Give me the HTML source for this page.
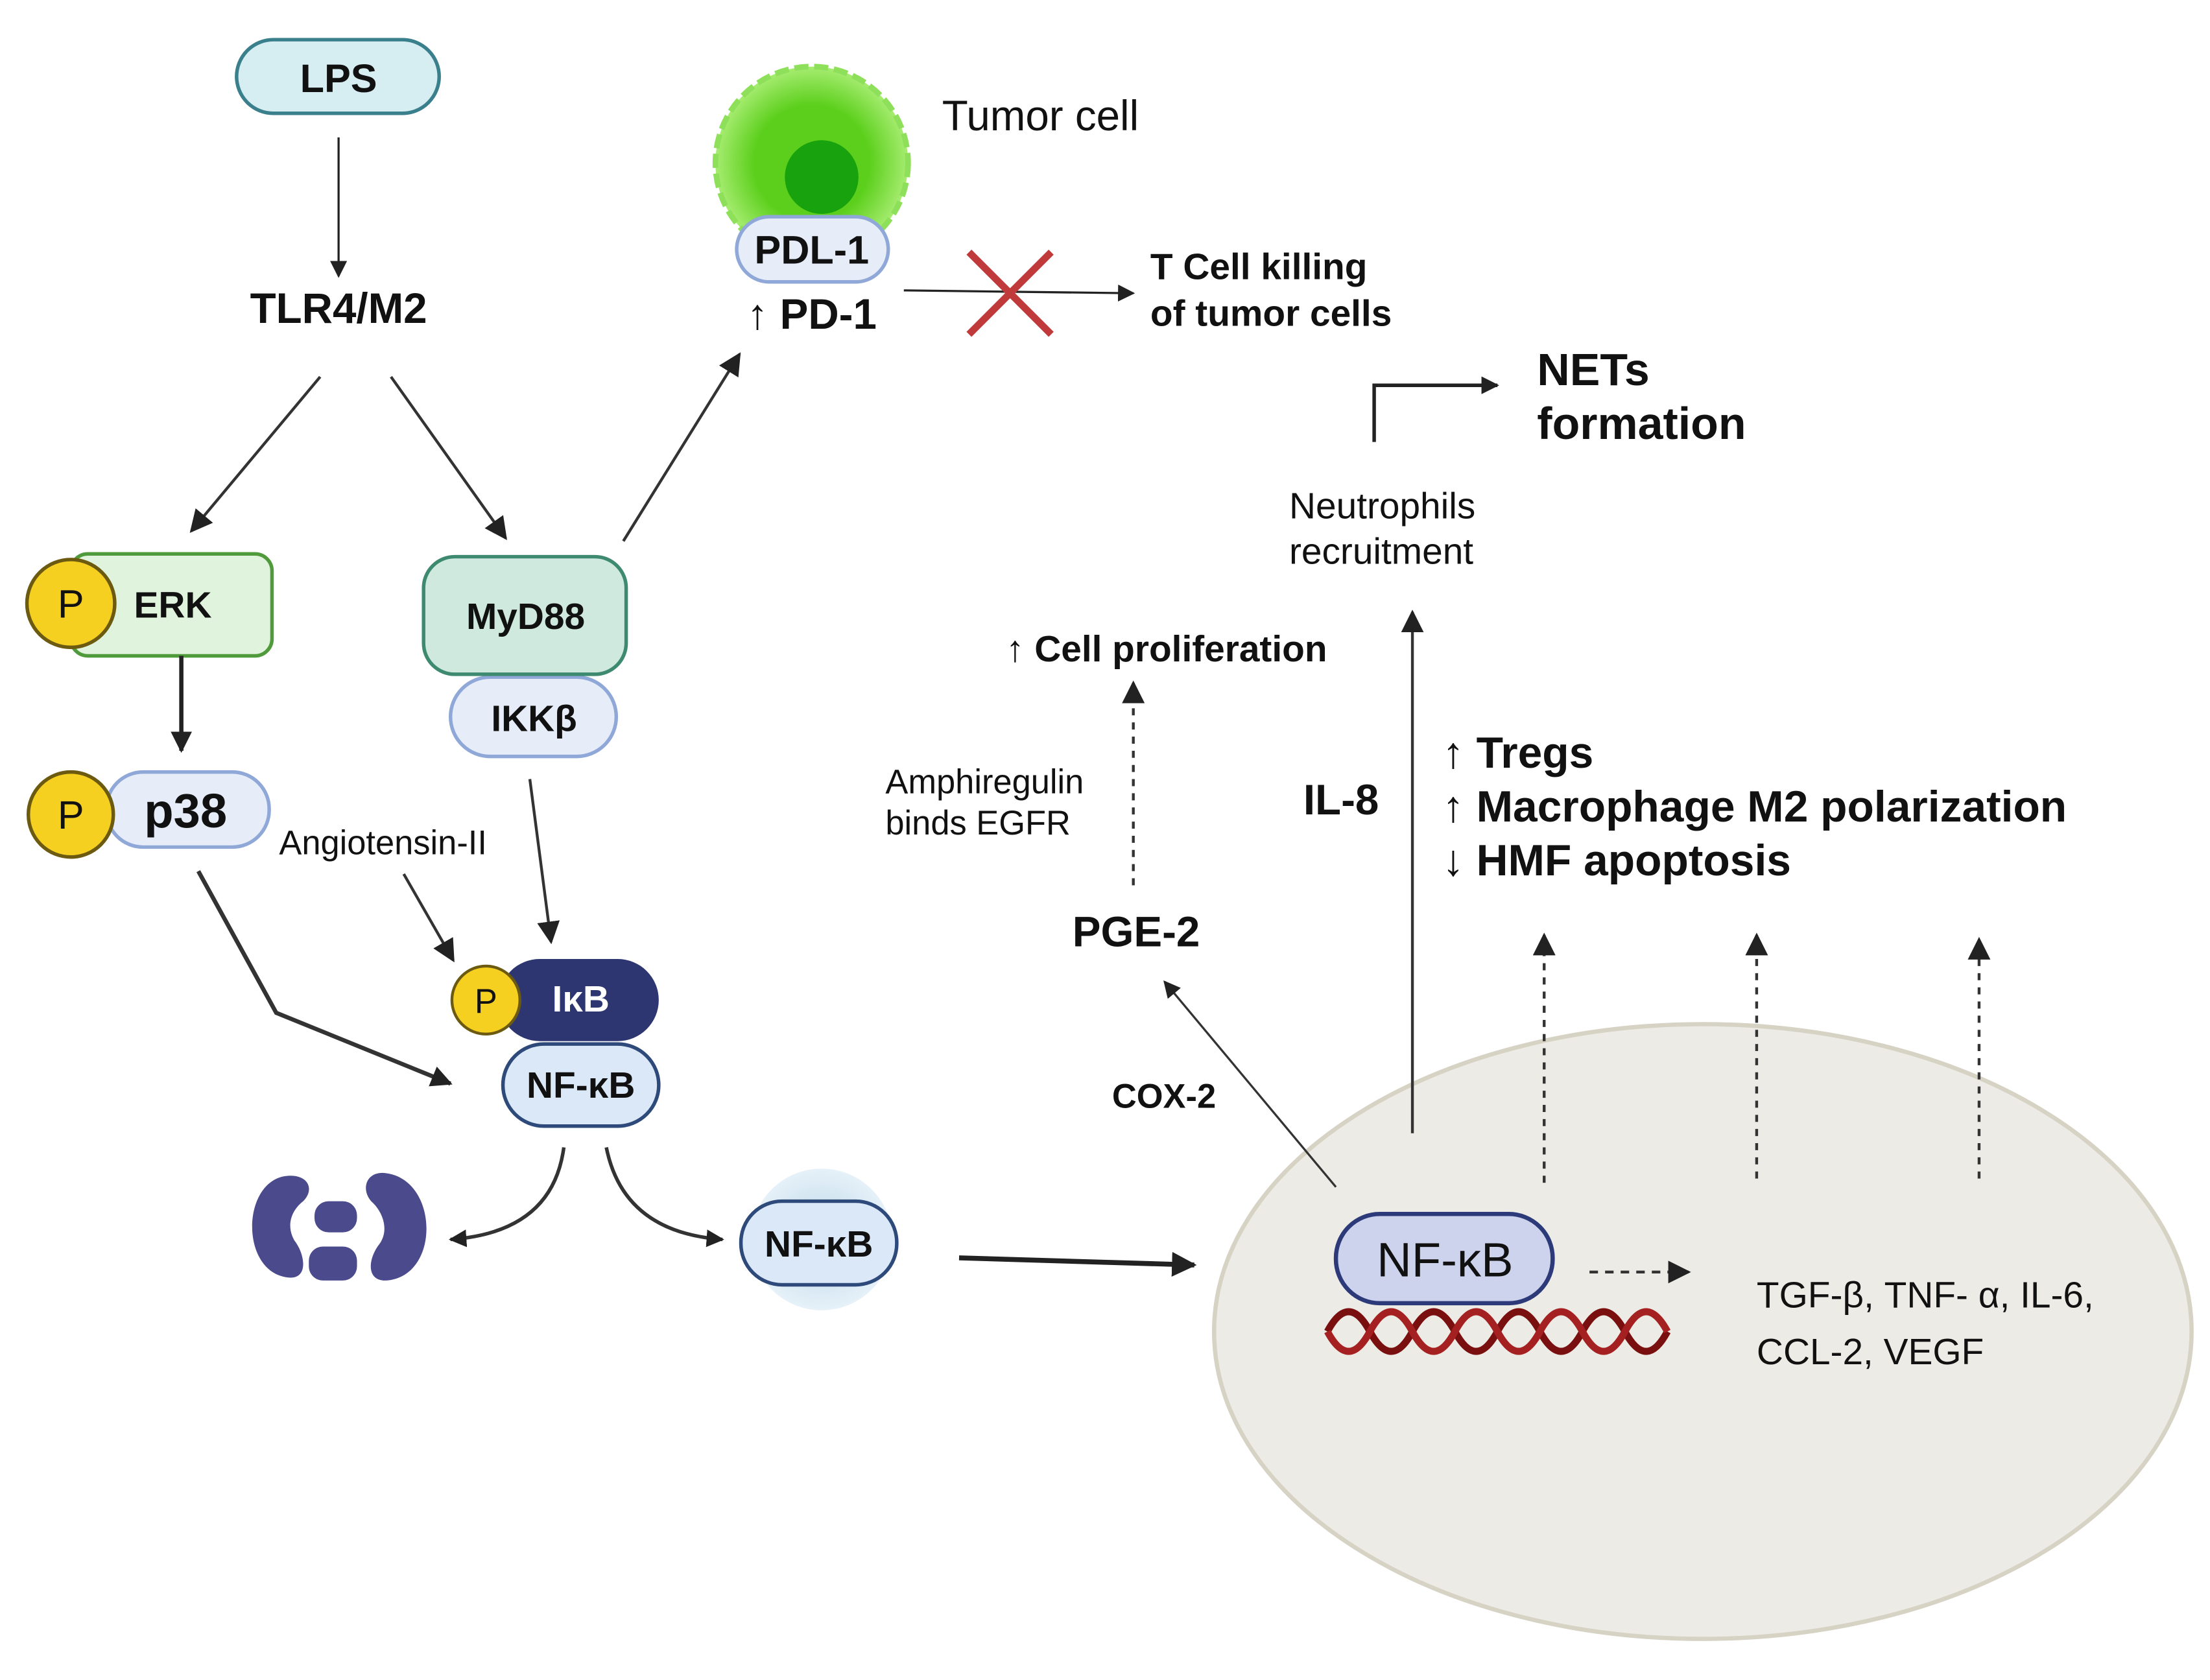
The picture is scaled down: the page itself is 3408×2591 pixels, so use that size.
<!DOCTYPE html>
<html><head><meta charset="utf-8"><style>
html,body{margin:0;padding:0;background:#fff}
svg{display:block}
text{font-family:"Liberation Sans",sans-serif;fill:#111}
.b{font-weight:bold}
</style></head><body>
<svg width="3408" height="2591" viewBox="0 0 1560 1186" xmlns="http://www.w3.org/2000/svg">
<defs>
<marker id="a" viewBox="0 0 10 10" refX="9" refY="5" markerWidth="5" markerHeight="5" orient="auto"><path d="M0,0 L10,5 L0,10 z" fill="#222"/></marker>
<marker id="a2" viewBox="0 0 10 10" refX="9" refY="5" markerWidth="8" markerHeight="8" orient="auto"><path d="M0,0 L10,5 L0,10 z" fill="#222"/></marker>
<radialGradient id="g"><stop offset="0.6" stop-color="#5ccf1c"/><stop offset="1" stop-color="#a6ec70"/></radialGradient>
<radialGradient id="glow"><stop offset="0.5" stop-color="#cfe3f0"/><stop offset="1" stop-color="#e6f1f8"/></radialGradient>
</defs>
<!-- nucleus ellipse -->
<ellipse cx="1202" cy="940" rx="345" ry="217" fill="#edebe5" stroke="#d6d2c4" stroke-width="3"/>

<!-- LPS -->
<rect x="167" y="28" width="143" height="52" rx="26" fill="#d6eef2" stroke="#3a7f8c" stroke-width="2.5"/>
<text x="239" y="65" font-size="28" text-anchor="middle" class="b">LPS</text>
<line x1="239" y1="97" x2="239" y2="195" stroke="#222" stroke-width="1.5" marker-end="url(#a2)"/>
<text x="239" y="228" font-size="30" text-anchor="middle" class="b">TLR4/M2</text>
<line x1="226" y1="266" x2="135" y2="375" stroke="#333" stroke-width="2" marker-end="url(#a2)"/>
<line x1="276" y1="266" x2="357" y2="380" stroke="#333" stroke-width="2" marker-end="url(#a2)"/>

<!-- ERK -->
<rect x="50" y="391" width="142" height="72" rx="12" fill="#e0f3dc" stroke="#4f9a3a" stroke-width="2.5"/>
<circle cx="50" cy="426" r="31" fill="#f5d020" stroke="#6b5a10" stroke-width="2.5"/>
<text x="50" y="436" font-size="28" text-anchor="middle">P</text>
<text x="122" y="436" font-size="26" text-anchor="middle" class="b">ERK</text>
<line x1="128" y1="463" x2="128" y2="530" stroke="#222" stroke-width="3" marker-end="url(#a)"/>

<!-- p38 -->
<rect x="75" y="545" width="115" height="53" rx="26" fill="#e6edf9" stroke="#8fa8d8" stroke-width="2.5"/>
<circle cx="50" cy="575" r="30" fill="#f5d020" stroke="#6b5a10" stroke-width="2.5"/>
<text x="50" y="585" font-size="28" text-anchor="middle">P</text>
<text x="131" y="584" font-size="34" text-anchor="middle" class="b">p38</text>
<text x="197" y="603" font-size="24">Angiotensin-II</text>

<!-- MyD88 -->
<rect x="318" y="478" width="117" height="56" rx="28" fill="#e6edf9" stroke="#8fa8d8" stroke-width="2.5"/>
<text x="377" y="516" font-size="26" text-anchor="middle" class="b">IKKβ</text>
<rect x="299" y="393" width="143" height="83" rx="22" fill="#cfe9df" stroke="#3e8a70" stroke-width="2.5"/>
<text x="371" y="444" font-size="26" text-anchor="middle" class="b">MyD88</text>
<line x1="440" y1="382" x2="522" y2="250" stroke="#333" stroke-width="2" marker-end="url(#a2)"/>

<!-- tumor -->
<circle cx="573" cy="115" r="68" fill="url(#g)" stroke="#8ee05a" stroke-width="4" stroke-dasharray="10 4"/>
<circle cx="580" cy="125" r="26" fill="#18a30e"/>
<text x="665" y="92" font-size="30">Tumor cell</text>
<rect x="520" y="153" width="107" height="46" rx="23" fill="#e6edf9" stroke="#8fa8d8" stroke-width="2.5"/>
<text x="573" y="186" font-size="28" text-anchor="middle" class="b">PDL-1</text>
<text x="573" y="232" font-size="30" text-anchor="middle" class="b">↑ PD-1</text>
<line x1="638" y1="205" x2="800" y2="207" stroke="#222" stroke-width="1.5" marker-end="url(#a2)"/>
<line x1="684" y1="178" x2="742" y2="236" stroke="#c0393b" stroke-width="5"/>
<line x1="742" y1="178" x2="684" y2="236" stroke="#c0393b" stroke-width="5"/>
<text x="812" y="197" font-size="26" class="b">T Cell killing</text>
<text x="812" y="230" font-size="26" class="b">of tumor cells</text>

<!-- NETs -->
<polyline points="970,312 970,272 1057,272" fill="none" stroke="#222" stroke-width="2.5" marker-end="url(#a)"/>
<text x="1085" y="272" font-size="32" class="b">NETs</text>
<text x="1085" y="310" font-size="32" class="b">formation</text>
<text x="910" y="366" font-size="26">Neutrophils</text>
<text x="910" y="398" font-size="26">recruitment</text>
<line x1="997" y1="800" x2="997" y2="432" stroke="#333" stroke-width="2" marker-end="url(#a2)"/>
<text x="710" y="467" font-size="26" class="b">↑ Cell proliferation</text>
<line x1="800" y1="625" x2="800" y2="482" stroke="#333" stroke-width="2" stroke-dasharray="5 5" marker-end="url(#a2)"/>
<text x="625" y="560" font-size="24">Amphiregulin</text>
<text x="625" y="589" font-size="24">binds EGFR</text>
<text x="920" y="575" font-size="30" class="b">IL-8</text>
<text x="1018" y="542" font-size="31" class="b">↑ Tregs</text>
<text x="1018" y="580" font-size="31" class="b">↑ Macrophage M2 polarization</text>
<text x="1018" y="618" font-size="31" class="b">↓ HMF apoptosis</text>
<text x="757" y="668" font-size="30" class="b">PGE-2</text>
<line x1="943" y1="838" x2="822" y2="693" stroke="#333" stroke-width="1.5" marker-end="url(#a2)"/>
<text x="785" y="782" font-size="24" class="b">COX-2</text>

<line x1="1090" y1="835" x2="1090" y2="660" stroke="#333" stroke-width="2" stroke-dasharray="5 5" marker-end="url(#a2)"/>
<line x1="1240" y1="832" x2="1240" y2="660" stroke="#333" stroke-width="2" stroke-dasharray="5 5" marker-end="url(#a2)"/>
<line x1="1397" y1="832" x2="1397" y2="663" stroke="#333" stroke-width="2" stroke-dasharray="5 5" marker-end="url(#a2)"/>

<!-- DNA -->
<path d="M937,940 q15,-28 30,0 t30,0 t30,0 t30,0 t30,0 t30,0 t30,0 t30,0" fill="none" stroke="#7a0f0f" stroke-width="5"/>
<path d="M937,940 q15,28 30,0 t30,0 t30,0 t30,0 t30,0 t30,0 t30,0 t30,0" fill="none" stroke="#a52020" stroke-width="5"/>
<rect x="943" y="857" width="153" height="63" rx="31" fill="#cdd3ec" stroke="#2d3a7a" stroke-width="3"/>
<text x="1020" y="901" font-size="34" text-anchor="middle">NF-κB</text>
<line x1="1122" y1="898" x2="1192" y2="898" stroke="#333" stroke-width="2" stroke-dasharray="6 5" marker-end="url(#a2)"/>
<text x="1240" y="923" font-size="26">TGF-β, TNF- α, IL-6,</text>
<text x="1240" y="963" font-size="26">CCL-2, VEGF</text>

<!-- IkB complex -->
<line x1="285" y1="617" x2="320" y2="678" stroke="#333" stroke-width="2" marker-end="url(#a2)"/>
<line x1="374" y1="550" x2="389" y2="665" stroke="#333" stroke-width="2" marker-end="url(#a2)"/>
<polyline points="140,615 195,715 318,765" fill="none" stroke="#333" stroke-width="3" marker-end="url(#a)"/>
<rect x="355" y="737" width="110" height="58" rx="29" fill="#dbe8f7" stroke="#2d4a7a" stroke-width="2.5"/>
<text x="410" y="775" font-size="26" text-anchor="middle" class="b">NF-κB</text>
<rect x="352" y="677" width="113" height="58" rx="29" fill="#2d3670"/>
<text x="410" y="714" font-size="26" text-anchor="middle" class="b" style="fill:#fff">IκB</text>
<circle cx="343" cy="706" r="24" fill="#f5d020" stroke="#6b5a10" stroke-width="2"/>
<text x="343" y="715" font-size="24" text-anchor="middle">P</text>
<path d="M398,810 Q390,870 318,875" fill="none" stroke="#333" stroke-width="2.5" marker-end="url(#a)"/>
<path d="M428,810 Q440,870 510,875" fill="none" stroke="#333" stroke-width="2.5" marker-end="url(#a)"/>

<!-- proteasome -->
<g fill="#4b4a8c">
<path d="M205,830 C170,830 168,900 205,902 C218,902 215,885 208,876 C202,866 205,855 214,848 C222,840 218,830 205,830z"/>
<path d="M270,828 C310,830 312,902 272,904 C258,904 260,888 268,878 C275,868 270,855 262,848 C255,840 258,828 270,828z"/>
<rect x="222" y="848" width="30" height="22" rx="10"/>
<rect x="218" y="880" width="34" height="24" rx="10"/>
</g>
<circle cx="580" cy="875" r="50" fill="url(#glow)"/>
<rect x="523" y="848" width="110" height="59" rx="29" fill="#dbe8f7" stroke="#2d4a7a" stroke-width="2.5"/>
<text x="578" y="887" font-size="26" text-anchor="middle" class="b">NF-κB</text>
<line x1="677" y1="888" x2="843" y2="893" stroke="#222" stroke-width="3.5" marker-end="url(#a)"/>
</svg>
</body></html>
